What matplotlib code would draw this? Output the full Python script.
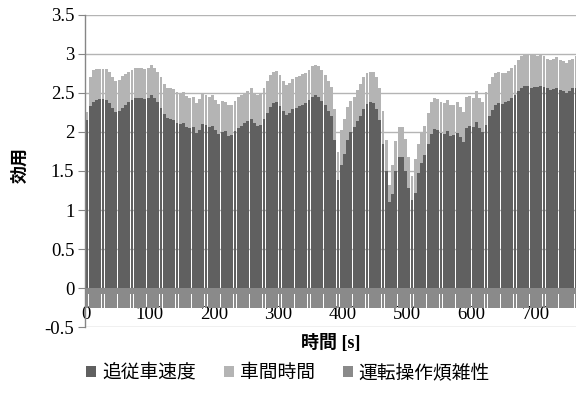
import numpy as np
import matplotlib
matplotlib.use("Agg")
import matplotlib.pyplot as plt
from matplotlib.patches import Patch

# sample time of each bar [s], 5 s per bar
time_s = np.arange(0, 770, 5)

# 追従車速度 (following vehicle speed utility)
speed_util = [
    2.15, 2.33, 2.39, 2.41, 2.42, 2.42, 2.41, 2.37, 2.31, 2.26,
    2.27, 2.31, 2.35, 2.38, 2.41, 2.43, 2.44, 2.43, 2.42, 2.44,
    2.47, 2.43, 2.38, 2.31, 2.23, 2.18, 2.17, 2.16, 2.12, 2.10,
    2.12, 2.07, 2.05, 2.06, 1.99, 2.02, 2.10, 2.09, 2.06, 2.08,
    2.02, 1.97, 2.00, 2.01, 1.95, 1.96, 2.01, 2.05, 2.08, 2.11,
    2.14, 2.17, 2.11, 2.08, 2.09, 2.17, 2.24, 2.32, 2.37, 2.38,
    2.33, 2.27, 2.22, 2.24, 2.29, 2.31, 2.33, 2.34, 2.37, 2.41,
    2.45, 2.47, 2.45, 2.40, 2.35, 2.27, 2.20, 1.90, 1.38, 1.58,
    1.72, 1.90, 2.00, 2.07, 2.14, 2.21, 2.29, 2.36, 2.39, 2.37,
    2.30, 2.16, 1.85, 1.50, 1.10, 1.20, 1.50, 1.68, 1.68, 1.50,
    1.28, 1.13, 1.22, 1.48, 1.60, 1.70, 1.85, 1.98, 2.04, 2.03,
    1.99, 1.98, 2.01, 1.95, 1.96, 1.99, 1.93, 1.87, 2.05, 2.08,
    2.06, 2.13, 2.05, 2.00, 2.09, 2.20, 2.28, 2.35, 2.37, 2.36,
    2.38, 2.40, 2.43, 2.47, 2.52, 2.57, 2.59, 2.59, 2.57, 2.58,
    2.58, 2.59, 2.58, 2.56, 2.54, 2.55, 2.56, 2.54, 2.52, 2.50,
    2.53, 2.56, 2.57, 2.57,
]

# 車間時間 (time headway utility), stacked on top
headway_util = [
    0.10, 0.38, 0.40, 0.40, 0.39, 0.39, 0.40, 0.40, 0.39, 0.39,
    0.40, 0.41, 0.39, 0.39, 0.39, 0.39, 0.38, 0.39, 0.39, 0.38,
    0.39, 0.39, 0.39, 0.40, 0.39, 0.39, 0.39, 0.39, 0.39, 0.39,
    0.39, 0.39, 0.39, 0.39, 0.38, 0.40, 0.40, 0.39, 0.39, 0.40,
    0.39, 0.39, 0.40, 0.38, 0.40, 0.39, 0.39, 0.40, 0.39, 0.38,
    0.38, 0.39, 0.38, 0.40, 0.40, 0.40, 0.41, 0.41, 0.40, 0.40,
    0.40, 0.39, 0.38, 0.39, 0.39, 0.39, 0.39, 0.40, 0.39, 0.39,
    0.39, 0.39, 0.39, 0.39, 0.38, 0.38, 0.38, 0.40, 0.36, 0.45,
    0.45, 0.42, 0.40, 0.38, 0.40, 0.40, 0.42, 0.39, 0.38, 0.40,
    0.40, 0.41, 0.42, 0.40, 0.22, 0.38, 0.38, 0.38, 0.38, 0.41,
    0.40, 0.30, 0.44, 0.36, 0.40, 0.38, 0.39, 0.40, 0.39, 0.39,
    0.39, 0.39, 0.40, 0.39, 0.39, 0.39, 0.39, 0.39, 0.40, 0.38,
    0.37, 0.39, 0.38, 0.39, 0.42, 0.42, 0.43, 0.41, 0.40, 0.39,
    0.38, 0.38, 0.39, 0.39, 0.40, 0.40, 0.40, 0.40, 0.43, 0.41,
    0.39, 0.40, 0.39, 0.38, 0.38, 0.39, 0.40, 0.38, 0.39, 0.39,
    0.39, 0.38, 0.40, 0.40,
]

# 運転操作煩雑性 (operation complexity), negative
complexity_util = [
    -0.25, -0.25, -0.25, -0.25, -0.25, -0.25, -0.25, -0.25, -0.25, -0.25,
    -0.25, -0.25, -0.25, -0.25, -0.25, -0.25, -0.25, -0.25, -0.25, -0.25,
    -0.25, -0.25, -0.25, -0.25, -0.25, -0.25, -0.25, -0.25, -0.25, -0.25,
    -0.25, -0.25, -0.25, -0.25, -0.25, -0.25, -0.25, -0.25, -0.25, -0.25,
    -0.25, -0.25, -0.25, -0.25, -0.25, -0.25, -0.25, -0.25, -0.25, -0.25,
    -0.25, -0.25, -0.25, -0.25, -0.25, -0.25, -0.25, -0.25, -0.25, -0.25,
    -0.25, -0.25, -0.25, -0.25, -0.25, -0.25, -0.25, -0.25, -0.25, -0.25,
    -0.25, -0.25, -0.25, -0.25, -0.25, -0.25, -0.25, -0.25, -0.25, -0.25,
    -0.25, -0.25, -0.25, -0.25, -0.25, -0.25, -0.25, -0.25, -0.25, -0.25,
    -0.25, -0.25, -0.25, -0.25, -0.25, -0.25, -0.25, -0.25, -0.25, -0.25,
    -0.25, -0.25, -0.25, -0.25, -0.25, -0.25, -0.25, -0.25, -0.25, -0.25,
    -0.25, -0.25, -0.25, -0.25, -0.25, -0.25, -0.25, -0.25, -0.25, -0.25,
    -0.25, -0.25, -0.25, -0.25, -0.25, -0.25, -0.25, -0.25, -0.25, -0.25,
    -0.25, -0.25, -0.25, -0.25, -0.25, -0.25, -0.25, -0.25, -0.25, -0.25,
    -0.25, -0.25, -0.25, -0.25, -0.25, -0.25, -0.25, -0.25, -0.25, -0.25,
    -0.25, -0.25, -0.25, -0.25,
]

series_names = ["追従車速度", "車間時間", "運転操作煩雑性"]
colors = ["#606060", "#b4b4b4", "#8a8a8a"]

jp_font = ["Noto Sans CJK JP", "DejaVu Sans"]
num_font = ["Liberation Serif", "Noto Sans CJK JP"]

fig = plt.figure(figsize=(5.76, 3.94), dpi=100)
ax = fig.add_axes([0.1484, 0.170, 0.8516, 0.792])

w = 5 * 0.9
bar_kw = dict(width=w, align="edge", linewidth=0, antialiased=False, zorder=2)
ax.bar(time_s, speed_util, color=colors[0], **bar_kw)
ax.bar(time_s, headway_util, bottom=speed_util, color=colors[1], **bar_kw)
ax.bar(time_s, complexity_util, color=colors[2], **bar_kw)
ax.axhspan(-0.08, 0, color=colors[2], lw=0, zorder=3)

ax.set_xlim(0, 762)
ax.set_ylim(-0.5, 3.5)
ax.set_yticks(np.arange(-0.5, 3.51, 0.5))
ax.set_yticklabels(["-0.5", "0", "0.5", "1", "1.5", "2", "2.5", "3", "3.5"])
ax.set_xticks(range(0, 701, 100))

ax.yaxis.grid(True, color="#b4b4b4", linewidth=1.0, zorder=0)
ax.set_axisbelow(True)
for side in ["top", "right", "bottom"]:
    ax.spines[side].set_visible(False)
ax.spines["left"].set_color("#868686")
ax.spines["left"].set_linewidth(1.0)
ax.spines["left"].set_zorder(4)

ax.tick_params(axis="y", length=5, color="#868686", pad=3)
ax.tick_params(axis="x", length=0, pad=-15)
for lbl in ax.get_xticklabels() + ax.get_yticklabels():
    lbl.set_family(num_font)
    lbl.set_fontsize(13.5)

ax.set_xlabel("時間 [s]", family=num_font, fontsize=13, fontweight="bold", labelpad=5)
ax.set_ylabel("効用", family=jp_font, fontsize=13, fontweight="bold", labelpad=9)
ax.yaxis.set_label_coords(-0.115, 0.52)

handles = [Patch(facecolor=c, edgecolor="none") for c in colors]
fig.legend(handles, series_names, loc="center", bbox_to_anchor=(0.5, 0.055),
           ncol=3, frameon=False, prop={"family": jp_font, "size": 13.5},
           handlelength=0.55, handleheight=0.55, handletextpad=0.3, columnspacing=1.5)

fig.savefig("out.png", dpi=100)
